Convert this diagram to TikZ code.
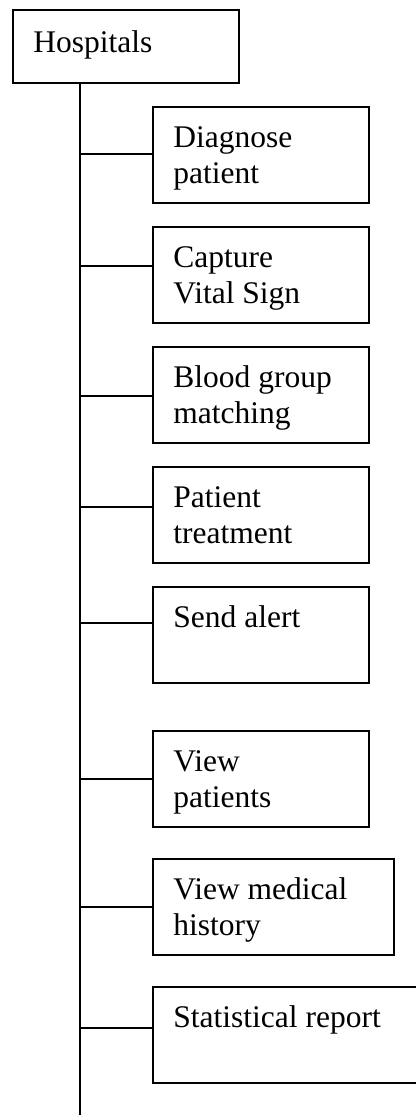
\documentclass[tikz,border=0pt]{standalone}
\usepackage{fontspec}
\setmainfont{Liberation Serif}
\tikzset{
  conn/.style={line width=0.75pt},
  rootbox/.style={draw, line width=0.75pt, inner xsep=7.8pt, inner ysep=0pt, anchor=north west,
    execute at begin node={\begin{minipage}[c][27.6pt][t]{70.5pt}\raggedright\vspace*{6.3pt}\strut},
    execute at end node={\end{minipage}}},
  taskbox/.style={draw, line width=0.75pt, inner xsep=7.8pt, inner ysep=0pt, anchor=north west,
    execute at begin node={\begin{minipage}[c][36.6pt][t]{#1}\raggedright\vspace*{5.6pt}\strut},
    execute at end node={\end{minipage}}},
  taskbox/.default=66.7pt
}
\begin{document}
\begin{tikzpicture}[x=0.381pt, y=-0.381pt, font=\fontsize{12}{13.8}\selectfont]
            \useasboundingbox (0,0) rectangle (416,1115);
            \node[rootbox] (hosp) at (12,9.5) {Hospitals};
            \node[taskbox] (diag) at (152,106) {Diagnose\\patient};
            \node[taskbox] (vital) at (152,226) {Capture\\Vital Sign};
            \node[taskbox] (blood) at (152,346) {Blood group\\matching};
            \node[taskbox] (treat) at (152,466) {Patient\\treatment};
            \node[taskbox] (alert) at (152,586) {Send alert};
            \node[taskbox] (viewp) at (152,730) {View\\patients};
            \node[taskbox=76.2pt] (hist) at (152,858) {View medical\\history};
            \node[taskbox=88.4pt] (stat) at (152,986) {Statistical report};
            % spine
            \coordinate (spineend) at (80,1115);
            \draw[conn] (hosp.south -| spineend) -- (spineend);
            % branches
            \foreach \b/\y in {diag/154,vital/266,blood/396,treat/507,alert/623,viewp/779,hist/907,stat/1028}
                \draw[conn] (80,\y) coordinate (j) -- (j -| \b.west);
        \end{tikzpicture}
\end{document}
